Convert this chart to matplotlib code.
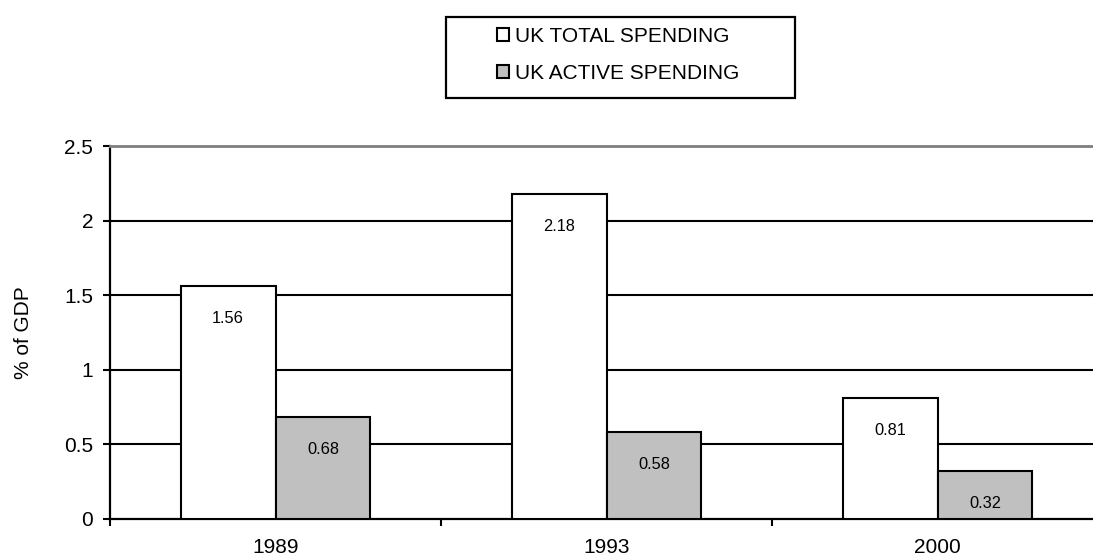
import numpy as np
import matplotlib
matplotlib.use('Agg')
from matplotlib import pyplot as plt
from matplotlib.patches import Rectangle

plt.rcParams['font.family'] = ['Liberation Sans', 'DejaVu Sans']

#   Spending as % of GDP
years = ['1989', '1993', '2000']
total_spending = [1.56, 2.18, 0.81]
active_spending = [0.68, 0.58, 0.32]
series_names = ['UK TOTAL SPENDING', 'UK ACTIVE SPENDING']
y_ticks = [0, 0.5, 1, 1.5, 2, 2.5]
y_tick_labels = ['0', '0.5', '1', '1.5', '2', '2.5']

fig = plt.figure(figsize=(10.93, 5.57), dpi=100)
ax = fig.add_axes([110 / 1093, 0.0688, 993 / 1093, 0.669])

x = np.arange(len(years)) + 0.5
w = 0.287

b1 = ax.bar(x - w / 2, total_spending, w, color='white', edgecolor='black',
            linewidth=1.5, zorder=3, label=series_names[0])
b2 = ax.bar(x + w / 2, active_spending, w, color='#c0c0c0', edgecolor='black',
            linewidth=1.5, zorder=3, label=series_names[1])

#   value labels just inside the top of each bar
for bars, vals in ((b1, total_spending), (b2, active_spending)):
    for rect, v in zip(bars, vals):
        ax.annotate(f'{v:.2f}', (rect.get_x() + rect.get_width() / 2, v),
                    xytext=(0, -23.5), textcoords='offset points',
                    ha='center', va='center', fontsize=11.8, zorder=4)

ax.set_xlim(0, 3)
ax.set_ylim(0, 2.5)

#   horizontal gridlines
for yv in y_ticks[1:-1]:
    ax.axhline(yv, color='black', linewidth=1.5, zorder=1)

ax.set_yticks(y_ticks)
ax.set_yticklabels(y_tick_labels)
ax.set_xticks(x)
ax.set_xticklabels(years)
ax.set_xticks(np.arange(len(years) + 1), minor=True)
ax.tick_params(axis='x', which='major', length=0, pad=14, labelsize=15)
ax.tick_params(axis='x', which='minor', length=5, width=1.5, direction='out')
ax.tick_params(axis='y', length=5, width=1.5, direction='out', pad=7, labelsize=15)

ax.spines['right'].set_visible(False)
ax.spines['top'].set_color('#808080')
ax.spines['top'].set_linewidth(2)
ax.spines['left'].set_linewidth(1.6)
ax.spines['bottom'].set_linewidth(1.6)

ax.set_ylabel('% of GDP', fontsize=15)
ax.yaxis.set_label_coords(-0.0775, 0.5)

#   legend box
fig.patches.append(Rectangle((446 / 1093, 1 - 98 / 557), 349 / 1093, 81 / 557,
                             transform=fig.transFigure, facecolor='white',
                             edgecolor='black', linewidth=1.6))
fig.legend(handles=[b1, b2], loc='center', bbox_to_anchor=(618 / 1093, 1 - 55 / 557),
           frameon=False, fontsize=15, handlelength=0.58, handleheight=0.58,
           handletextpad=0.25, labelspacing=0.88)

fig.savefig('out.png', dpi=100)
